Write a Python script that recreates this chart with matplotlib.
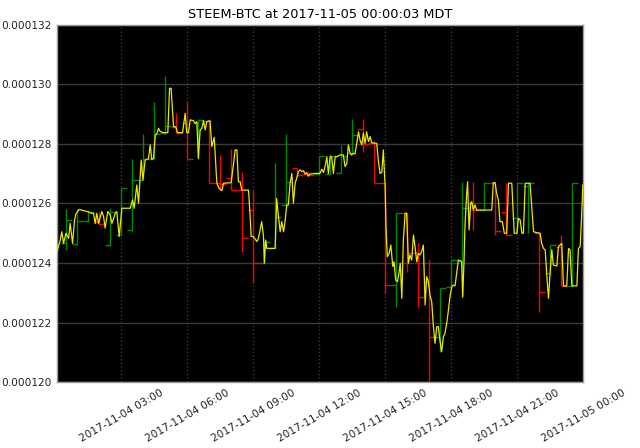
import matplotlib
matplotlib.use('Agg')
import matplotlib.pyplot as plt
import matplotlib.dates as mdates
from matplotlib.ticker import FormatStrFormatter, MultipleLocator
import numpy as np
from datetime import datetime, timedelta

TITLE = "STEEM-BTC at 2017-11-05 00:00:03 MDT"
START = datetime(2017, 11, 4, 0, 0)
END = datetime(2017, 11, 5, 0, 0)

# 30-minute OHLC candles (hours after 2017-11-04 00:00), prices in 1e-6 BTC
candle_hours = [0.5, 1.0, 1.5, 2.0, 2.5, 3.0, 3.5, 4.0, 4.5, 5.0, 5.5, 6.0,
                6.5, 7.0, 7.5, 8.0, 8.5, 9.0, 9.5, 10.0, 10.5, 11.0, 11.5, 12.0,
                12.5, 13.0, 13.5, 14.0, 14.5, 15.0, 15.5, 16.0, 16.5, 17.0, 17.5, 18.0,
                18.5, 19.0, 19.5, 20.0, 20.5, 21.0, 21.5, 22.0, 22.5, 23.0, 23.5]
opens = [124.66, 124.65, 125.40, 125.39, 124.60, 124.95, 125.10, 126.80, 127.50, 128.38, 128.58, 128.72,
         128.70, 128.78, 126.70, 126.85, 126.45, 125.78, 123.99, 124.49, 125.95, 127.18, 127.00, 127.00,
         127.00, 127.01, 127.70, 128.50, 128.04, 126.70, 123.26, 125.67, 124.33, 123.37, 121.50, 123.20,
         124.10, 126.00, 125.78, 126.70, 125.73, 125.50, 126.60, 125.00, 123.65, 124.55, 123.23]
highs = [125.82, 125.80, 125.78, 125.73, 125.84, 126.53, 127.50, 128.34, 129.42, 130.29, 129.05, 129.42,
         128.85, 128.80, 127.63, 127.82, 127.07, 126.45, 124.75, 127.37, 128.34, 127.18, 127.05, 127.60,
         127.65, 127.97, 128.84, 128.84, 128.10, 126.70, 125.67, 125.67, 124.66, 124.10, 123.15, 124.10,
         126.73, 126.73, 126.73, 126.73, 126.68, 126.68, 126.70, 125.00, 124.60, 124.94, 126.68]
lows = [124.44, 124.60, 125.38, 125.28, 124.57, 124.94, 125.09, 126.79, 127.48, 128.35, 128.36, 127.50,
        127.50, 126.68, 126.45, 126.45, 124.38, 123.32, 123.99, 124.49, 125.90, 126.90, 126.92, 127.00,
        127.00, 127.01, 127.70, 127.74, 126.70, 122.98, 122.53, 123.71, 122.53, 120.01, 121.02, 123.18,
        122.81, 125.11, 125.78, 124.94, 124.94, 125.00, 125.00, 122.36, 123.60, 123.23, 123.23]
closes = [125.45, 125.40, 125.70, 125.30, 125.70, 126.53, 126.80, 127.50, 128.34, 128.60, 128.38, 127.50,
          128.80, 126.68, 126.65, 126.45, 124.83, 123.99, 124.70, 125.56, 126.73, 126.95, 126.95, 127.60,
          127.60, 127.60, 128.30, 128.00, 126.70, 123.26, 125.67, 124.33, 122.87, 121.52, 123.15, 124.10,
          125.84, 125.78, 126.70, 125.06, 124.95, 126.68, 126.68, 123.04, 124.60, 123.23, 126.68]

# last-trade price line (hours after 2017-11-04 00:00), prices in 1e-6 BTC
line_hours = [0.08, 0.23, 0.30, 0.38, 0.49, 0.61, 0.68, 0.79, 0.88, 0.94, 1.09, 1.29, 1.44, 1.67, 1.74,
              1.82, 1.89, 1.97, 2.12, 2.20, 2.27, 2.39, 2.50, 2.58, 2.73, 2.80, 2.91, 3.03, 3.41, 3.52,
              3.59, 3.71, 3.79, 3.91, 3.99, 4.09, 4.24, 4.32, 4.39, 4.47, 4.55, 4.62, 4.70, 4.77, 4.92,
              5.12, 5.20, 5.27, 5.38, 5.48, 5.56, 5.79, 5.91, 5.98, 6.06, 6.14, 6.29, 6.36, 6.44, 6.51,
              6.59, 6.67, 6.74, 6.82, 6.89, 7.04, 7.12, 7.23, 7.35, 7.45, 7.58, 7.65, 8.00, 8.11, 8.18,
              8.26, 8.33, 8.41, 8.48, 8.79, 8.86, 8.91, 9.01, 9.17, 9.24, 9.39, 9.47, 9.51, 9.57, 9.62,
              10.00, 10.07, 10.15, 10.23, 10.30, 10.38, 10.45, 10.53, 10.60, 10.68, 10.76, 10.83, 10.91, 10.98, 11.06,
              11.14, 11.21, 11.29, 11.36, 11.44, 11.51, 11.59, 11.82, 12.04, 12.12, 12.20, 12.27, 12.35, 12.42, 12.50,
              12.57, 12.65, 12.73, 12.80, 12.95, 13.10, 13.18, 13.26, 13.33, 13.41, 13.48, 13.56, 13.63, 13.71, 13.79,
              13.86, 13.94, 14.01, 14.09, 14.16, 14.24, 14.32, 14.39, 14.62, 14.69, 14.77, 14.85, 14.92, 15.00, 15.04,
              15.10, 15.18, 15.26, 15.35, 15.41, 15.48, 15.56, 15.63, 15.69, 15.76, 15.83, 15.91, 15.98, 16.06, 16.13,
              16.21, 16.29, 16.36, 16.44, 16.51, 16.59, 16.66, 16.74, 16.82, 16.89, 16.97, 17.04, 17.12, 17.19, 17.27,
              17.35, 17.42, 17.50, 17.57, 17.65, 17.72, 17.80, 17.88, 17.95, 18.03, 18.10, 18.18, 18.25, 18.33, 18.48,
              18.53, 18.59, 18.63, 18.71, 18.75, 18.82, 18.89, 18.94, 19.01, 19.09, 19.16, 19.85, 19.92, 20.00, 20.07,
              20.15, 20.22, 20.33, 20.42, 20.53, 20.61, 20.76, 20.87, 20.99, 21.06, 21.14, 21.22, 21.29, 21.37, 21.59,
              21.75, 21.90, 22.05, 22.12, 22.20, 22.28, 22.35, 22.43, 22.50, 22.58, 22.65, 22.81, 22.88, 23.03, 23.11,
              23.26, 23.34, 23.41, 23.49, 23.72, 23.79, 23.87, 23.94, 23.99]
line_prices = [124.38, 124.77, 125.05, 124.66, 125.00, 124.83, 125.33, 124.66, 125.45, 125.65, 125.80, 125.76, 125.73, 125.67, 125.67,
               125.33, 125.67, 125.33, 125.73, 125.56, 125.17, 125.73, 125.61, 125.33, 125.67, 125.73, 124.89, 125.84, 125.84, 126.12,
               125.84, 126.62, 126.01, 127.46, 126.79, 127.46, 127.50, 127.97, 127.48, 127.52, 128.30, 128.34, 128.53, 128.42, 128.38,
               128.38, 129.87, 129.87, 128.58, 128.58, 128.38, 128.38, 129.03, 128.38, 128.38, 128.81, 128.78, 128.69, 128.75, 127.52,
               128.47, 128.53, 128.78, 128.47, 128.75, 128.78, 127.91, 128.22, 126.68, 126.51, 126.43, 126.68, 126.70, 127.35, 127.80,
               127.80, 126.73, 126.73, 126.45, 126.45, 125.61, 124.89, 124.89, 124.72, 124.83, 125.39, 124.89, 123.99, 124.77, 124.49,
               124.49, 126.17, 125.56, 125.05, 125.39, 125.05, 125.39, 125.95, 125.95, 126.68, 127.01, 126.01, 126.68, 126.85, 127.07,
               127.13, 127.07, 127.10, 126.99, 127.04, 126.92, 126.99, 127.01, 127.01, 127.15, 127.04, 127.24, 127.57, 127.01, 127.57,
               127.57, 127.01, 127.57, 127.57, 127.63, 127.63, 127.24, 127.35, 127.97, 127.69, 127.63, 127.69, 127.66, 128.02, 128.41,
               128.13, 127.97, 128.36, 128.02, 128.41, 128.08, 128.25, 128.04, 128.02, 127.46, 127.01, 127.04, 127.80, 126.57, 125.22,
               124.21, 124.32, 124.60, 123.88, 124.04, 123.43, 123.37, 123.65, 123.99, 122.81, 124.77, 125.67, 125.67, 123.99, 124.27,
               124.10, 124.94, 124.55, 124.04, 124.32, 124.27, 124.38, 124.60, 122.59, 123.54, 123.37, 122.92, 122.70, 121.92, 121.30,
               121.86, 121.86, 121.36, 121.02, 121.52, 121.64, 121.97, 122.42, 122.87, 123.20, 123.26, 123.23, 123.65, 124.10, 124.04,
               122.87, 124.10, 125.22, 126.34, 126.73, 125.11, 126.01, 126.06, 125.78, 125.95, 125.78, 125.78, 126.70, 126.70, 126.34,
               126.12, 125.39, 125.39, 125.00, 125.00, 126.68, 126.68, 125.00, 125.00, 125.50, 125.45, 125.00, 125.00, 126.68, 126.68,
               125.05, 125.02, 125.00, 124.66, 124.49, 124.44, 123.60, 122.81, 123.65, 124.44, 123.93, 123.90, 124.55, 124.66, 123.23,
               123.23, 124.49, 124.44, 123.23, 123.23, 124.49, 124.55, 125.67, 126.62]

y_ticks = [0.000120, 0.000122, 0.000124, 0.000126, 0.000128, 0.000130, 0.000132]

UP = '#008a00'
DOWN = '#ff0000'
LINE = '#e8e800'

def to_num(hours):
    return mdates.date2num([START + timedelta(hours=h) for h in hours])

fig = plt.figure(figsize=(6.4, 4.48), dpi=100)
ax = fig.add_axes([0.089, 0.1473, 0.822, 0.797])
ax.set_facecolor('black')

cx = to_num(candle_hours)
o = np.array(opens) * 1e-6
h = np.array(highs) * 1e-6
l = np.array(lows) * 1e-6
c = np.array(closes) * 1e-6
cols = [UP if cc >= oo else DOWN for oo, cc in zip(o, c)]
half = 0.25 / 24.0

ax.vlines(cx, l, h, colors=cols, linewidth=1.0, zorder=3)
ax.hlines(o, cx - half, cx, colors=cols, linewidth=1.0, zorder=3)
ax.hlines(c, cx, cx + half, colors=cols, linewidth=1.0, zorder=3)

lx = to_num(line_hours)
ax.plot(lx, np.array(line_prices) * 1e-6, color=LINE, linewidth=0.9, zorder=4)

ax.set_ylim(y_ticks[0], y_ticks[-1])
ax.set_yticks(y_ticks)
ax.yaxis.set_major_formatter(FormatStrFormatter('%.6f'))
ax.set_xlim(lx[0], mdates.date2num(END))
ax.xaxis.set_major_locator(mdates.HourLocator(byhour=range(0, 24, 3)))
ax.xaxis.set_major_formatter(mdates.DateFormatter('%Y-%m-%d %H:%M'))

ax.grid(axis='y', color='#3a3a3a', linestyle='-', linewidth=1.0, zorder=1)
ax.grid(axis='x', color='#3a3a3a', linestyle=':', linewidth=1.0, zorder=1)

for lab in ax.get_xticklabels():
    lab.set_rotation(30)
    lab.set_ha('center')
ax.tick_params(axis='both', labelsize=7.6, length=0, pad=4, colors='#222222')
for sp in ax.spines.values():
    sp.set_color('#9a9a9a')
    sp.set_linewidth(1.0)

ax.set_title(TITLE, fontsize=9.3, pad=5)

fig.savefig('out.png', dpi=100, facecolor='white')
